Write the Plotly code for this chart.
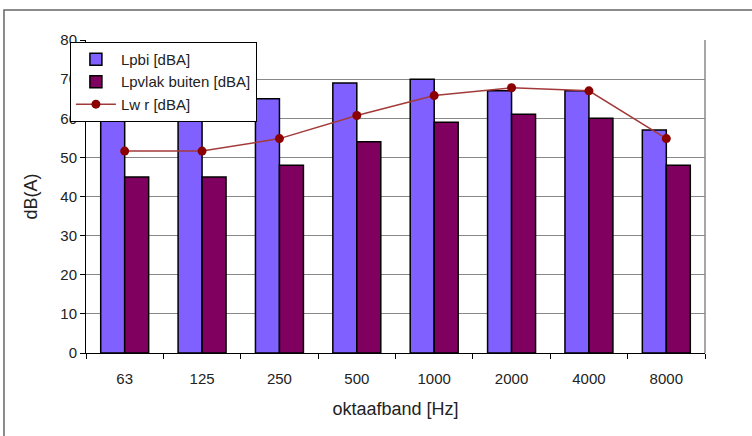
import plotly.graph_objects as go

bands = ["63", "125", "250", "500", "1000", "2000", "4000", "8000"]
lpbi = [60, 64, 65, 69, 70, 67, 67, 57]
lpvlak_buiten = [45, 45, 48, 54, 59, 61, 60, 48]
lwr = [51.6, 51.6, 54.8, 60.7, 65.8, 67.8, 67.0, 54.8]
y_ticks = [0, 10, 20, 30, 40, 50, 60, 70, 80]

FONT = "Liberation Sans, Arial, sans-serif"

fig = go.Figure()
fig.add_trace(
    go.Bar(
        x=bands,
        y=lpbi,
        name="Lpbi [dBA]",
        marker={"color": "#8060FF", "line": {"color": "black", "width": 1.5}},
    )
)
fig.add_trace(
    go.Bar(
        x=bands,
        y=lpvlak_buiten,
        name="Lpvlak buiten [dBA]",
        marker={"color": "#800060", "line": {"color": "black", "width": 1.5}},
    )
)
fig.add_trace(
    go.Scatter(
        x=bands,
        y=lwr,
        name="Lw r [dBA]",
        mode="lines+markers",
        line={"color": "#A33A3A", "width": 1.5},
        marker={"color": "#8B0000", "size": 9},
    )
)

fig.update_layout(
    width=752,
    height=436,
    margin={"l": 86, "r": 47, "t": 40, "b": 83, "autoexpand": False},
    paper_bgcolor="white",
    plot_bgcolor="white",
    font={"family": FONT, "size": 15, "color": "#222"},
    barmode="group",
    bargap=0.38,
    bargroupgap=0,
    showlegend=True,
    legend={
        "x": -0.026,
        "y": 0.994,
        "xanchor": "left",
        "yanchor": "top",
        "bgcolor": "white",
        "bordercolor": "black",
        "borderwidth": 1,
        "font": {"family": FONT, "size": 15, "color": "#222"},
        "tracegroupgap": 0,
        "itemwidth": 40,
    },
    xaxis={
        "type": "category",
        "title": {"text": "oktaafband [Hz]", "standoff": 16},
        "showline": True,
        "linecolor": "black",
        "linewidth": 1,
        "ticks": "outside",
        "tickson": "boundaries",
        "ticklen": 5,
        "tickcolor": "black",
        "ticklabelstandoff": 12,
        "showgrid": False,
    },
    yaxis={
        "title": {"text": "dB(A)", "standoff": 18},
        "range": [0, 80],
        "tickvals": y_ticks,
        "showline": True,
        "linecolor": "black",
        "linewidth": 1,
        "ticks": "outside",
        "ticklen": 5,
        "tickcolor": "black",
        "showgrid": True,
        "gridcolor": "#888",
        "gridwidth": 1,
        "zeroline": False,
    },
    shapes=[
        # right edge of the plot area
        {
            "type": "line",
            "xref": "paper",
            "yref": "paper",
            "x0": 1,
            "x1": 1,
            "y0": 0,
            "y1": 1,
            "line": {"color": "#888", "width": 1.5},
        },
        # outer frame of the chart
        {
            "type": "rect",
            "xref": "paper",
            "yref": "paper",
            "x0": -0.1325,
            "x1": 1.3,
            "y0": -0.5,
            "y1": 1.096,
            "line": {"color": "#666", "width": 1.5},
            "layer": "below",
        },
    ],
)

# drop the default page margin so the figure sits at the window's corner
fig.write_html(
    "out.html",
    config={"displayModeBar": False},
    post_script="document.body.style.margin = '0';",
)
